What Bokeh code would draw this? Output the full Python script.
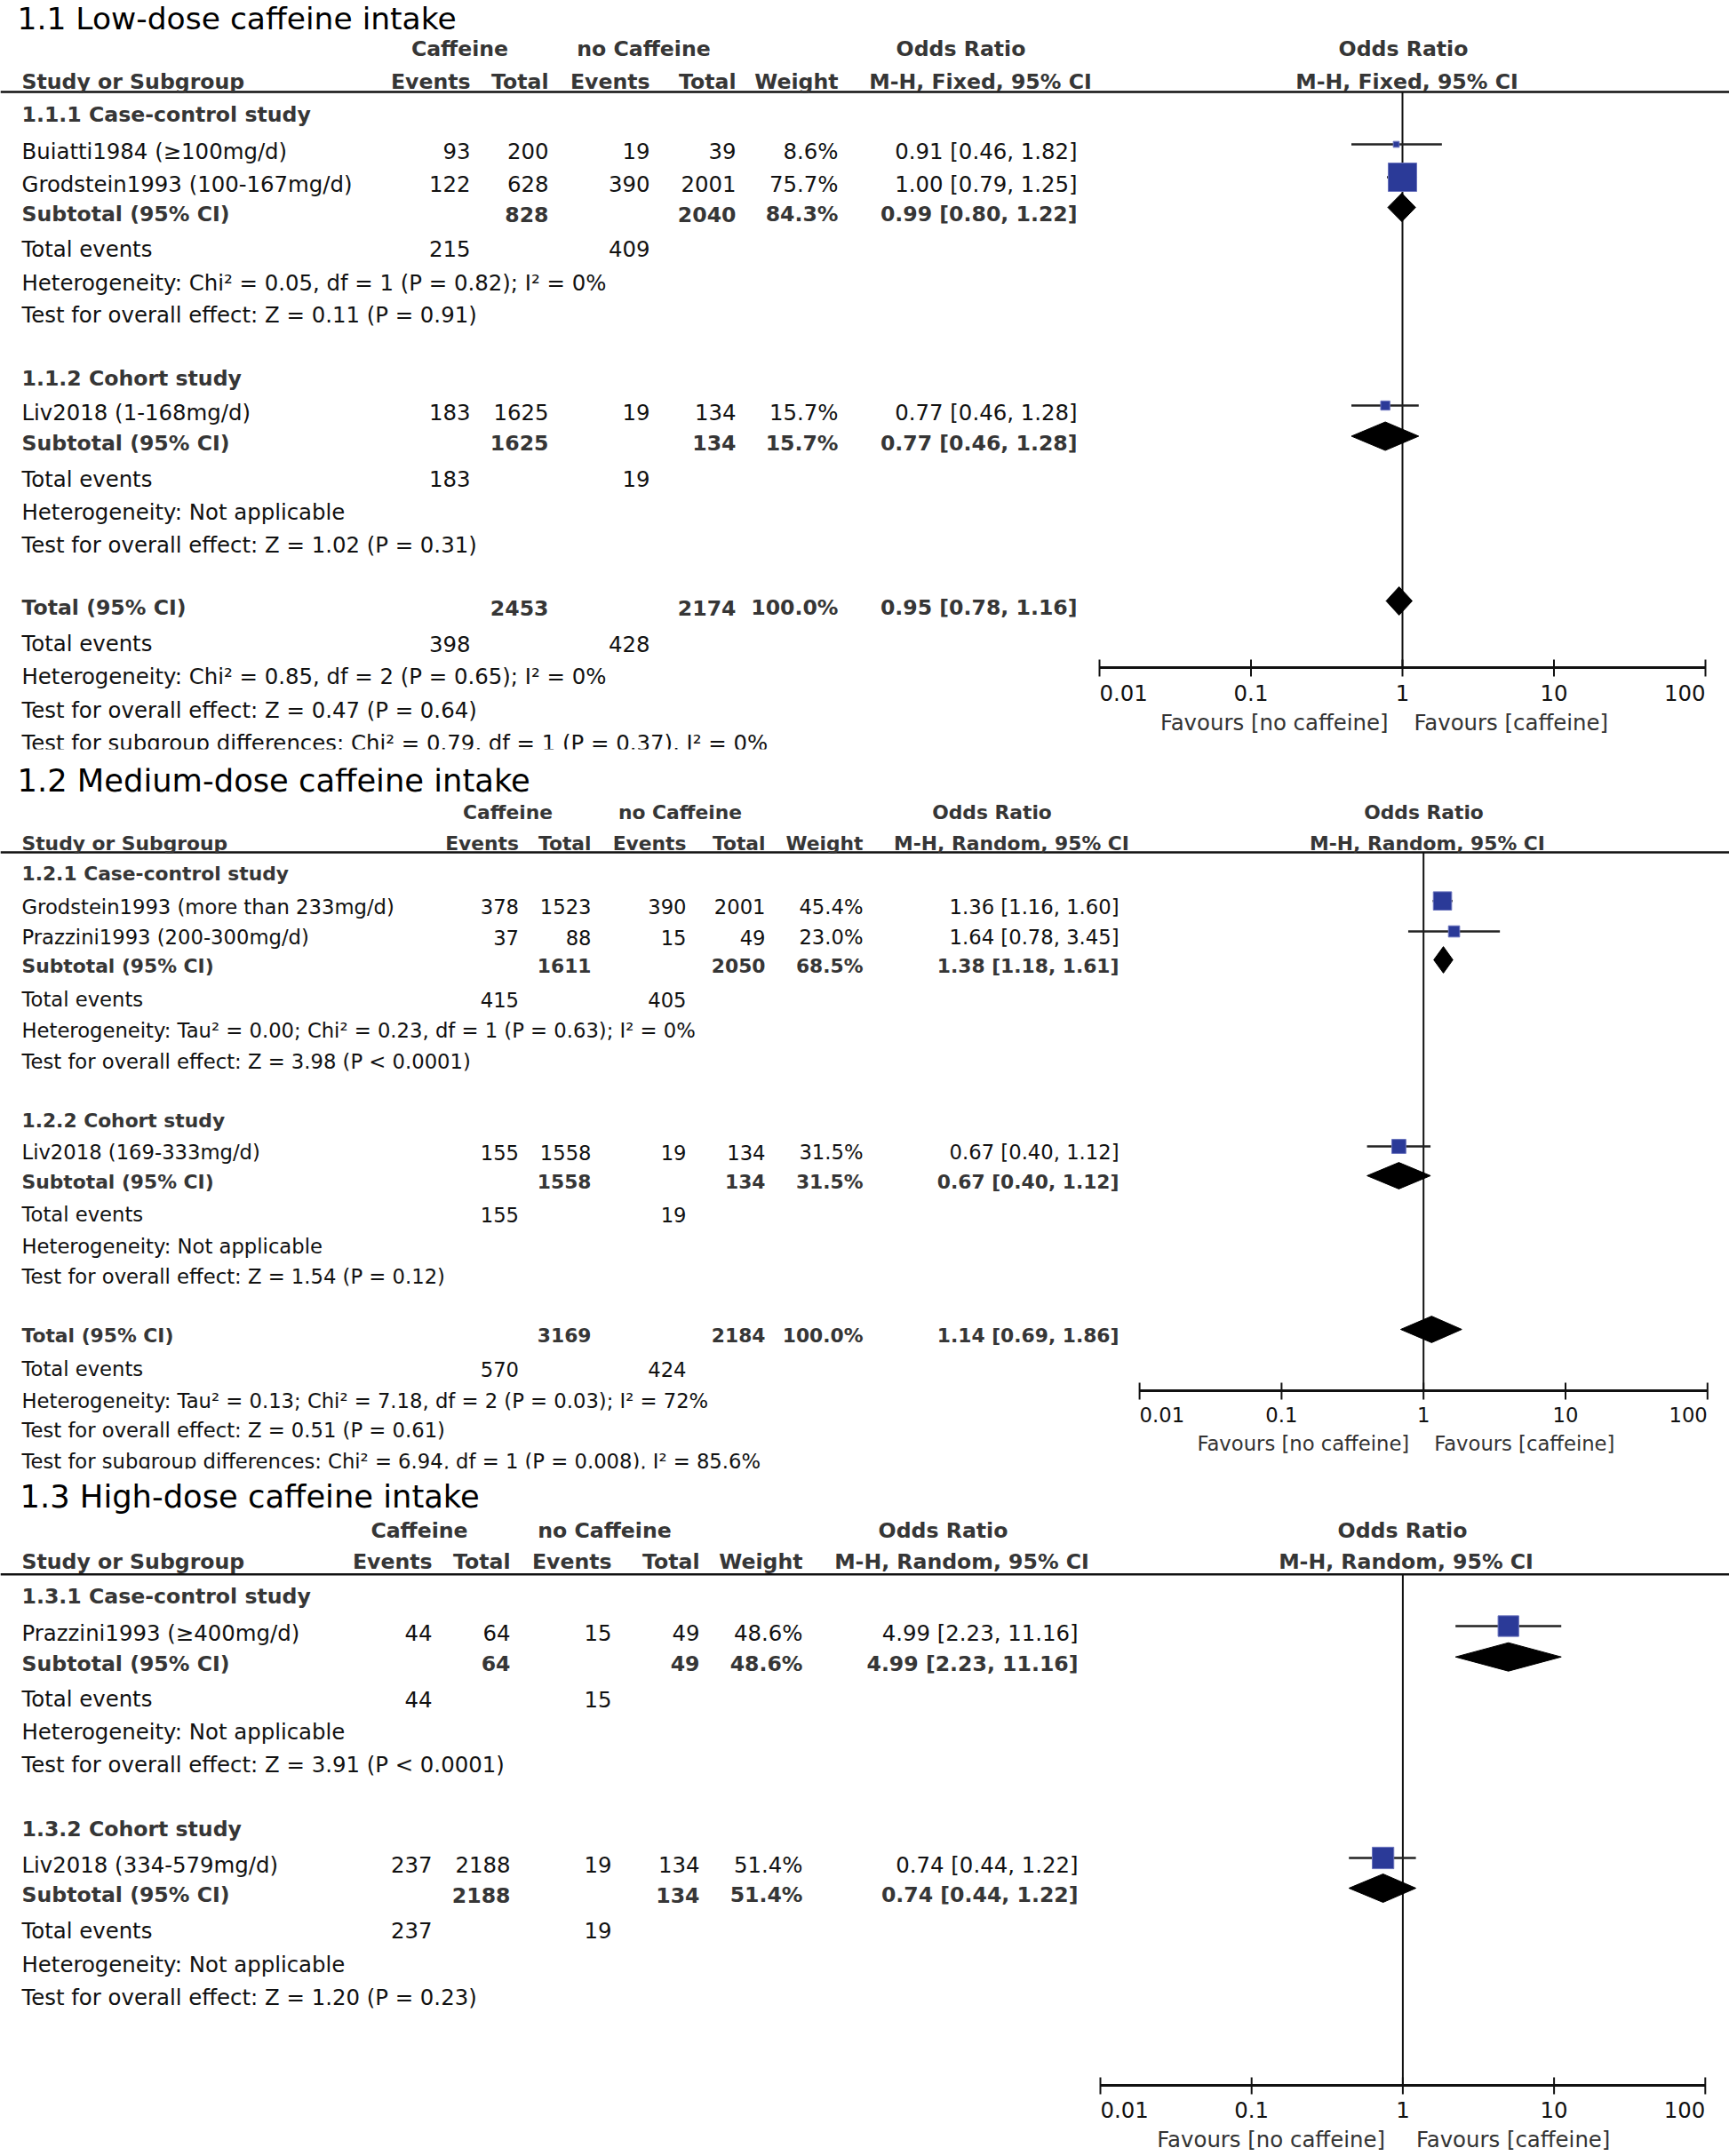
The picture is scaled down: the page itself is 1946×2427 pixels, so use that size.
import math
from bokeh.plotting import figure
from bokeh.models import Range1d, LogScale, ColumnDataSource
from bokeh.embed import file_html
from bokeh.resources import INLINE
from bokeh.core.properties import value

# ======================= DATA =======================
col_group_headers = ["Caffeine", "no Caffeine"]
col_headers = ["Events", "Total", "Events", "Total", "Weight"]
study_header = "Study or Subgroup"
or_header = "Odds Ratio"
axis_ticks = [0.01, 0.1, 1, 10, 100]
axis_tick_labels = ["0.01", "0.1", "1", "10", "100"]
favours_labels = ["Favours [no caffeine]", "Favours [caffeine]"]

# ---- 1.1 Low-dose ----
low_title = "1.1 Low-dose caffeine intake"
low_method = "M-H, Fixed, 95% CI"
low_groups = ["1.1.1 Case-control study", "1.1.2 Cohort study"]
low_studies = ["Buiatti1984 (\u2265100mg/d)", "Grodstein1993 (100-167mg/d)", "Liv2018 (1-168mg/d)"]
low_study_group = [0, 0, 1]
low_events_caf = [93, 122, 183]
low_total_caf = [200, 628, 1625]
low_events_no = [19, 390, 19]
low_total_no = [39, 2001, 134]
low_weight = [8.6, 75.7, 15.7]
low_or = [0.91, 1.00, 0.77]
low_or_lo = [0.46, 0.79, 0.46]
low_or_hi = [1.82, 1.25, 1.28]
low_sub_total_caf = [828, 1625]
low_sub_total_no = [2040, 134]
low_sub_weight = [84.3, 15.7]
low_sub_or = [0.99, 0.77]
low_sub_lo = [0.80, 0.46]
low_sub_hi = [1.22, 1.28]
low_sub_events_caf = [215, 183]
low_sub_events_no = [409, 19]
low_sub_het = ["Heterogeneity: Chi\u00b2 = 0.05, df = 1 (P = 0.82); I\u00b2 = 0%",
               "Heterogeneity: Not applicable"]
low_sub_test = ["Test for overall effect: Z = 0.11 (P = 0.91)",
                "Test for overall effect: Z = 1.02 (P = 0.31)"]
low_all_totals = [2453, 2174]
low_all_weight = 100.0
low_all_or = [0.95, 0.78, 1.16]
low_all_events = [398, 428]
low_all_notes = ["Heterogeneity: Chi\u00b2 = 0.85, df = 2 (P = 0.65); I\u00b2 = 0%",
                 "Test for overall effect: Z = 0.47 (P = 0.64)",
                 "Test for subgroup differences: Chi\u00b2 = 0.79, df = 1 (P = 0.37), I\u00b2 = 0%"]

# ---- 1.2 Medium-dose ----
med_title = "1.2 Medium-dose caffeine intake"
med_method = "M-H, Random, 95% CI"
med_groups = ["1.2.1 Case-control study", "1.2.2 Cohort study"]
med_studies = ["Grodstein1993 (more than 233mg/d)", "Prazzini1993 (200-300mg/d)", "Liv2018 (169-333mg/d)"]
med_study_group = [0, 0, 1]
med_events_caf = [378, 37, 155]
med_total_caf = [1523, 88, 1558]
med_events_no = [390, 15, 19]
med_total_no = [2001, 49, 134]
med_weight = [45.4, 23.0, 31.5]
med_or = [1.36, 1.64, 0.67]
med_or_lo = [1.16, 0.78, 0.40]
med_or_hi = [1.60, 3.45, 1.12]
med_sub_total_caf = [1611, 1558]
med_sub_total_no = [2050, 134]
med_sub_weight = [68.5, 31.5]
med_sub_or = [1.38, 0.67]
med_sub_lo = [1.18, 0.40]
med_sub_hi = [1.61, 1.12]
med_sub_events_caf = [415, 155]
med_sub_events_no = [405, 19]
med_sub_het = ["Heterogeneity: Tau\u00b2 = 0.00; Chi\u00b2 = 0.23, df = 1 (P = 0.63); I\u00b2 = 0%",
               "Heterogeneity: Not applicable"]
med_sub_test = ["Test for overall effect: Z = 3.98 (P < 0.0001)",
                "Test for overall effect: Z = 1.54 (P = 0.12)"]
med_all_totals = [3169, 2184]
med_all_weight = 100.0
med_all_or = [1.14, 0.69, 1.86]
med_all_events = [570, 424]
med_all_notes = ["Heterogeneity: Tau\u00b2 = 0.13; Chi\u00b2 = 7.18, df = 2 (P = 0.03); I\u00b2 = 72%",
                 "Test for overall effect: Z = 0.51 (P = 0.61)",
                 "Test for subgroup differences: Chi\u00b2 = 6.94, df = 1 (P = 0.008), I\u00b2 = 85.6%"]

# ---- 1.3 High-dose ----
high_title = "1.3 High-dose caffeine intake"
high_method = "M-H, Random, 95% CI"
high_groups = ["1.3.1 Case-control study", "1.3.2 Cohort study"]
high_studies = ["Prazzini1993 (\u2265400mg/d)", "Liv2018 (334-579mg/d)"]
high_study_group = [0, 1]
high_events_caf = [44, 237]
high_total_caf = [64, 2188]
high_events_no = [15, 19]
high_total_no = [49, 134]
high_weight = [48.6, 51.4]
high_or = [4.99, 0.74]
high_or_lo = [2.23, 0.44]
high_or_hi = [11.16, 1.22]
high_sub_total_caf = [64, 2188]
high_sub_total_no = [49, 134]
high_sub_weight = [48.6, 51.4]
high_sub_or = [4.99, 0.74]
high_sub_lo = [2.23, 0.44]
high_sub_hi = [11.16, 1.22]
high_sub_events_caf = [44, 237]
high_sub_events_no = [15, 19]
high_sub_het = ["Heterogeneity: Not applicable", "Heterogeneity: Not applicable"]
high_sub_test = ["Test for overall effect: Z = 3.91 (P < 0.0001)",
                 "Test for overall effect: Z = 1.20 (P = 0.23)"]

# ======================= PANEL TABLES (built from the arrays) =======================
def panel(prefix, has_total):
    g = globals()
    d = {k: g[prefix + "_" + k] for k in [
        "title", "method", "groups", "studies", "study_group", "events_caf", "total_caf",
        "events_no", "total_no", "weight", "or", "or_lo", "or_hi", "sub_total_caf", "sub_total_no",
        "sub_weight", "sub_or", "sub_lo", "sub_hi", "sub_events_caf", "sub_events_no", "sub_het", "sub_test"]}
    if has_total:
        for k in ["all_totals", "all_weight", "all_or", "all_events", "all_notes"]:
            d[k] = g[prefix + "_" + k]
    d["has_total"] = has_total
    return d

panels = [panel("low", True), panel("med", True), panel("high", False)]

# ======================= LAYOUT (reference pixel positions) =======================
layouts = [
    dict(title_x=19, title_y=21, title_size=34.5, h1=55, h2=92, line=103,
         cols=[529, 617, 731, 828, 943, 1212], caf_c=517, no_c=724, or_c=1081, mh_c=1103,
         orr_c=1579, mhr_c=1583,
         rows=[129, 170, 207, 241, 280, 318, 354, 426, 464, 498.5, 539, 576, 613,
               684, 724.5, 761.6, 799, 836],
         one_x=1578, decade=170.5, axis_y=751, tick_y=780, fav_y=813, fav_gap=(16, 13),
         mk_dy=-8, scale=1.0, fs=24.4, fsb=23.6, cover=(843, 864)),
    dict(title_x=19, title_y=879, title_size=35.3, h1=914, h2=949, line=959,
         cols=[583.5, 665, 772, 861, 971, 1259], caf_c=571, no_c=765, or_c=1116, mh_c=1138,
         orr_c=1602, mhr_c=1606,
         rows=[983, 1020.7, 1055, 1087, 1125, 1159.5, 1195, 1261.6, 1297, 1330, 1367, 1402.7,
               1437, 1503, 1541, 1577, 1610, 1645],
         one_x=1601.7, decade=159.8, axis_y=1565, tick_y=1592, fav_y=1625, fav_gap=(16, 12),
         mk_dy=-7, scale=0.93, fs=22.7, fsb=21.8, cover=(1653, 1668)),
    dict(title_x=22, title_y=1685, title_size=35.3, h1=1723, h2=1758, line=1771.7,
         cols=[486, 574, 688, 787, 903, 1213], caf_c=471.5, no_c=680, or_c=1061, mh_c=1082,
         orr_c=1578, mhr_c=1582,
         rows=[1797, 1838, 1872.7, 1912.7, 1949, 1986, 2059, 2099, 2133, 2173, 2211, 2248],
         one_x=1578.4, decade=170.2, axis_y=2347, tick_y=2375, fav_y=2408, fav_gap=(20, 15),
         mk_dy=-8, scale=1.0, fs=24.4, fsb=23.6, cover=None),
]

FONT = "DejaVu Sans"
TITLE_FONT = "DejaVu Sans"
C_REG = "#111111"
C_BOLD = "#363636"
C_BOX = "#2b3a98"
C_BOX_LINE = "#6a73bd"
BASE_OFF = -0.02   # y given as visual centre of the text line

W, H = 1946, 2427
X0, X1 = 0, W
p = figure(width=W, height=H, x_range=Range1d(X0, X1), y_range=Range1d(H, 0),
           x_axis_type=None, y_axis_type=None, output_backend="svg", toolbar_location=None,
           min_border=0)
p.title.visible = False
p.grid.visible = False
p.outline_line_color = None
p.background_fill_color = "white"
p.border_fill_color = "white"

extra_r, extra_s = {}, {}
for k, L in enumerate(layouts):
    extra_r[f"or{k}"] = Range1d(10 ** ((X0 - L["one_x"]) / L["decade"]),
                                10 ** ((X1 - L["one_x"]) / L["decade"]))
    extra_s[f"or{k}"] = LogScale()
p.extra_x_ranges = extra_r
p.extra_x_scales = extra_s

texts = {}

def add_text(x, yc, s, size, bold=False, align="left", color=None, font=FONT, baseline_off=BASE_OFF):
    key = (size, bold, align, color or (C_BOLD if bold else C_REG), font)
    d = texts.setdefault(key, dict(x=[], y=[], text=[]))
    d["x"].append(x)
    d["y"].append(yc + baseline_off * size)
    d["text"].append(s)

def fmt_or(o, lo, hi):
    return f"{o:.2f} [{lo:.2f}, {hi:.2f}]"

for k, (P, L) in enumerate(zip(panels, layouts)):
    rn = f"or{k}"
    fs, fsb, sc = L["fs"], L["fsb"], L["scale"]
    c = L["cols"]
    # title
    add_text(L["title_x"], L["title_y"], P["title"], L["title_size"], color="#000000",
             font=TITLE_FONT)
    # header row 1
    add_text(L["caf_c"], L["h1"], col_group_headers[0], fsb, True, "center")
    add_text(L["no_c"], L["h1"], col_group_headers[1], fsb, True, "center")
    add_text(L["or_c"], L["h1"], or_header, fsb, True, "center")
    add_text(L["orr_c"], L["h1"], or_header, fsb, True, "center")
    # header row 2
    add_text(24, L["h2"], study_header, fsb, True, "left")
    for j, h in enumerate(col_headers):
        add_text(c[j], L["h2"], h, fsb, True, "right")
    add_text(L["mh_c"], L["h2"], P["method"], fsb, True, "center")
    add_text(L["mhr_c"], L["h2"], P["method"], fsb, True, "center")

    # row sequence
    seq = []
    for g in range(len(P["groups"])):
        seq.append(("group", g))
        for i, sg in enumerate(P["study_group"]):
            if sg == g:
                seq.append(("study", i))
        seq += [("sub", g), ("events", g), ("het", g), ("test", g)]
    if P["has_total"]:
        seq += [("total", 0), ("tevents", 0), ("note", 0), ("note", 1), ("note", 2)]

    st_x0, st_x1, st_y, st_sz = [], [], [], []
    st_or = []
    dm_xs, dm_ys = [], []
    for (kind, i), yc in zip(seq, L["rows"]):
        ym = yc + L["mk_dy"]
        if kind == "group":
            add_text(24, yc, P["groups"][i], fsb, True)
        elif kind == "study":
            add_text(24, yc, P["studies"][i], fs)
            vals = [P["events_caf"][i], P["total_caf"][i], P["events_no"][i], P["total_no"][i]]
            for j, v in enumerate(vals):
                add_text(c[j], yc, str(v), fs, align="right")
            add_text(c[4], yc, f"{P['weight'][i]:.1f}%", fs, align="right")
            add_text(c[5], yc, fmt_or(P["or"][i], P["or_lo"][i], P["or_hi"][i]), fs, align="right")
            st_x0.append(P["or_lo"][i]); st_x1.append(P["or_hi"][i]); st_y.append(ym)
            st_or.append(P["or"][i])
            st_sz.append(1.42 * sc * P["weight"][i] ** 0.72)
        elif kind == "sub":
            add_text(24, yc, "Subtotal (95% CI)", fsb, True)
            add_text(c[1], yc, str(P["sub_total_caf"][i]), fsb, True, "right")
            add_text(c[3], yc, str(P["sub_total_no"][i]), fsb, True, "right")
            add_text(c[4], yc, f"{P['sub_weight'][i]:.1f}%", fsb, True, "right")
            add_text(c[5], yc, fmt_or(P["sub_or"][i], P["sub_lo"][i], P["sub_hi"][i]), fsb, True, "right")
            h = 16 * sc
            dm_xs.append([P["sub_lo"][i], P["sub_or"][i], P["sub_hi"][i], P["sub_or"][i]])
            dm_ys.append([ym, ym - h, ym, ym + h])
        elif kind == "events":
            add_text(24, yc, "Total events", fs)
            add_text(c[0], yc, str(P["sub_events_caf"][i]), fs, align="right")
            add_text(c[2], yc, str(P["sub_events_no"][i]), fs, align="right")
        elif kind == "het":
            add_text(24, yc, P["sub_het"][i], fs)
        elif kind == "test":
            add_text(24, yc, P["sub_test"][i], fs)
        elif kind == "total":
            add_text(24, yc, "Total (95% CI)", fsb, True)
            add_text(c[1], yc, str(P["all_totals"][0]), fsb, True, "right")
            add_text(c[3], yc, str(P["all_totals"][1]), fsb, True, "right")
            add_text(c[4], yc, f"{P['all_weight']:.1f}%", fsb, True, "right")
            o = P["all_or"]
            add_text(c[5], yc, fmt_or(o[0], o[1], o[2]), fsb, True, "right")
            h = 16 * sc
            dm_xs.append([o[1], o[0], o[2], o[0]])
            dm_ys.append([ym, ym - h, ym, ym + h])
        elif kind == "tevents":
            add_text(24, yc, "Total events", fs)
            add_text(c[0], yc, str(P["all_events"][0]), fs, align="right")
            add_text(c[2], yc, str(P["all_events"][1]), fs, align="right")
        elif kind == "note":
            add_text(24, yc, P["all_notes"][i], fs)

    # header rule
    p.segment(x0=[0], x1=[W], y0=[L["line"]], y1=[L["line"]], line_color="#111111", line_width=2.5)
    # line of no effect
    p.segment(x0=[1], x1=[1], y0=[L["line"]], y1=[L["axis_y"]], line_color="#111111",
              line_width=2, x_range_name=rn)
    # axis
    ay = L["axis_y"]
    p.segment(x0=[axis_ticks[0]], x1=[axis_ticks[-1]], y0=[ay], y1=[ay], line_color="#111111",
              line_width=3, x_range_name=rn)
    p.segment(x0=axis_ticks, x1=axis_ticks, y0=[ay - 9] * len(axis_ticks), y1=[ay + 10] * len(axis_ticks),
              line_color="#111111", line_width=2, x_range_name=rn)
    tfs = fs
    tb = L["tick_y"] + BASE_OFF * tfs
    common = dict(text_font=value(FONT), text_font_size=f"{tfs}px", text_color=C_REG,
                  text_baseline="alphabetic", x_range_name=rn)
    p.text(x=axis_ticks[:1], y=[tb], text=axis_tick_labels[:1], text_align="left", **common)
    p.text(x=axis_ticks[1:-1], y=[tb] * 3, text=axis_tick_labels[1:-1], text_align="center", **common)
    p.text(x=axis_ticks[-1:], y=[tb], text=axis_tick_labels[-1:], text_align="right", **common)
    fb = L["fav_y"] + BASE_OFF * tfs
    common["text_color"] = "#333333"
    p.text(x=[1], y=[fb], text=[favours_labels[0]], text_align="right", x_offset=-L["fav_gap"][0], **common)
    p.text(x=[1], y=[fb], text=[favours_labels[1]], text_align="left", x_offset=L["fav_gap"][1], **common)

    # study CIs and boxes
    p.segment(x0=st_x0, x1=st_x1, y0=st_y, y1=st_y, line_color="#222222", line_width=2.5, x_range_name=rn)
    p.scatter(x=st_or, y=st_y, size=st_sz, marker="square", fill_color=C_BOX, line_color=C_BOX_LINE,
              line_width=1, x_range_name=rn)
    p.patches(xs=dm_xs, ys=dm_ys, fill_color="#000000", line_color="#000000", line_width=1,
              x_range_name=rn)

# draw table texts
for (size, bold, align, color, font), d in texts.items():
    p.text(x="x", y="y", text="text", source=ColumnDataSource(d), text_font=value(font),
           text_font_size=f"{size}px", text_font_style="bold" if bold else "normal",
           text_color=color, text_align=align, text_baseline="alphabetic")

# cropped bottom strips of the original panels
for L in layouts:
    if L["cover"]:
        p.quad(left=[0], right=[1400], top=[L["cover"][0]], bottom=[L["cover"][1]],
               fill_color="white", line_color=None)

open("out.html", "w").write(file_html(p, INLINE))
